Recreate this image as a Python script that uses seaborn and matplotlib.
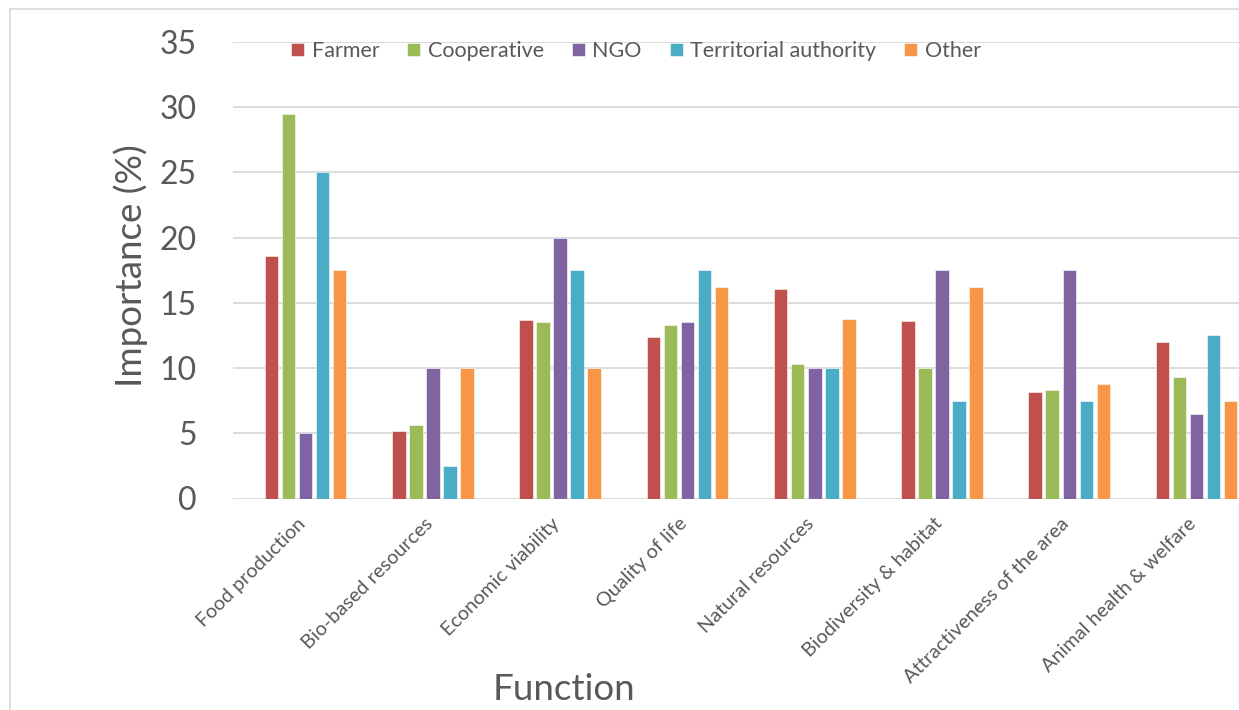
import matplotlib
matplotlib.use("Agg")
import matplotlib.pyplot as plt
import matplotlib.transforms as mtransforms
from matplotlib.patches import Rectangle
import seaborn as sns
import pandas as pd

# Survey results: relative importance (%) of each function, by stakeholder group
functions = [
    "Food production", "Bio-based resources", "Economic viability", "Quality of life",
    "Natural resources", "Biodiversity & habitat", "Attractiveness of the area",
    "Animal health & welfare",
]
groups = ["Farmer", "Cooperative", "NGO", "Territorial authority", "Other"]

farmer = [18.6, 5.2, 13.7, 12.4, 16.1, 13.6, 8.2, 12.0]
cooperative = [29.5, 5.6, 13.5, 13.3, 10.3, 10.0, 8.3, 9.3]
ngo = [5.0, 10.0, 20.0, 13.5, 10.0, 17.5, 17.5, 6.5]
territorial = [25.0, 2.5, 17.5, 17.5, 10.0, 7.5, 7.5, 12.5]
other = [17.5, 10.0, 10.0, 16.25, 13.75, 16.25, 8.75, 7.5]

colors = ["#C0504D", "#9BBB59", "#8064A2", "#4BACC6", "#F79646"]
yticks = [0, 5, 10, 15, 20, 25, 30, 35]

series = [farmer, cooperative, ngo, territorial, other]
df = pd.DataFrame(
    [(f, g, v) for g, vals in zip(groups, series) for f, v in zip(functions, vals)],
    columns=["Function", "Group", "Importance"],
)

sns.set_theme(style="white")
plt.rcParams["font.family"] = ["Lato", "DejaVu Sans"]
text_color = "#595959"
grid_color = "#D9D9D9"

W, H = 1239, 710
fig = plt.figure(figsize=(W / 100, H / 100), dpi=100)
fig.patch.set_facecolor("white")

# outer chart frame
fig.patches.append(Rectangle((10 / W, -0.2), 2.0, 1.2 - 9 / H, transform=fig.transFigure,
                             fill=False, edgecolor=grid_color, linewidth=1.2, zorder=0))

ax = fig.add_axes([233 / W, 1 - 498.5 / H, 1 - 233 / W, (498.5 - 42) / H])
sns.barplot(data=df, x="Function", y="Importance", hue="Group", order=functions,
            hue_order=groups, palette=colors, width=0.668, gap=0.2, saturation=1,
            edgecolor="white", linewidth=0.4, ax=ax, zorder=3)

ax.set_xlim(-0.5695, 7.333)
ax.set_ylim(0, 35)
ax.set_yticks(yticks)
ax.set_yticklabels([str(t) for t in yticks])
for s in ax.spines.values():
    s.set_visible(False)
ax.grid(axis="y", color=grid_color, linewidth=1.3, zorder=0)
ax.set_axisbelow(True)
ax.tick_params(axis="y", length=0, pad=26, labelsize=23, labelcolor=text_color)
ax.tick_params(axis="x", length=0, pad=16, labelsize=14.3, labelcolor=text_color)
ax.set_xlabel("")
ax.set_ylabel("")

shift = mtransforms.ScaledTranslation(-3 / 100, 0, fig.dpi_scale_trans)
for lab in ax.get_xticklabels():
    lab.set_rotation(45)
    lab.set_ha("right")
    lab.set_va("center")
    lab.set_rotation_mode("anchor")
    lab.set_transform(lab.get_transform() + shift)

handles, labels = ax.get_legend_handles_labels()
ax.get_legend().remove()
fig.legend(handles, labels, loc="center", bbox_to_anchor=(636 / W, 1 - 51 / H),
           ncol=5, frameon=False, fontsize=15.5, handlelength=0.6, handleheight=0.6,
           handletextpad=0.35, columnspacing=1.3, labelcolor=text_color)

fig.text(131 / W, 1 - 266 / H, "Importance (%)", rotation=90, ha="center", va="center",
         fontsize=26.5, color=text_color)
fig.text(564 / W, 1 - 690 / H, "Function", ha="center", va="center",
         fontsize=26.5, color=text_color)

fig.savefig("out.png", dpi=100)
